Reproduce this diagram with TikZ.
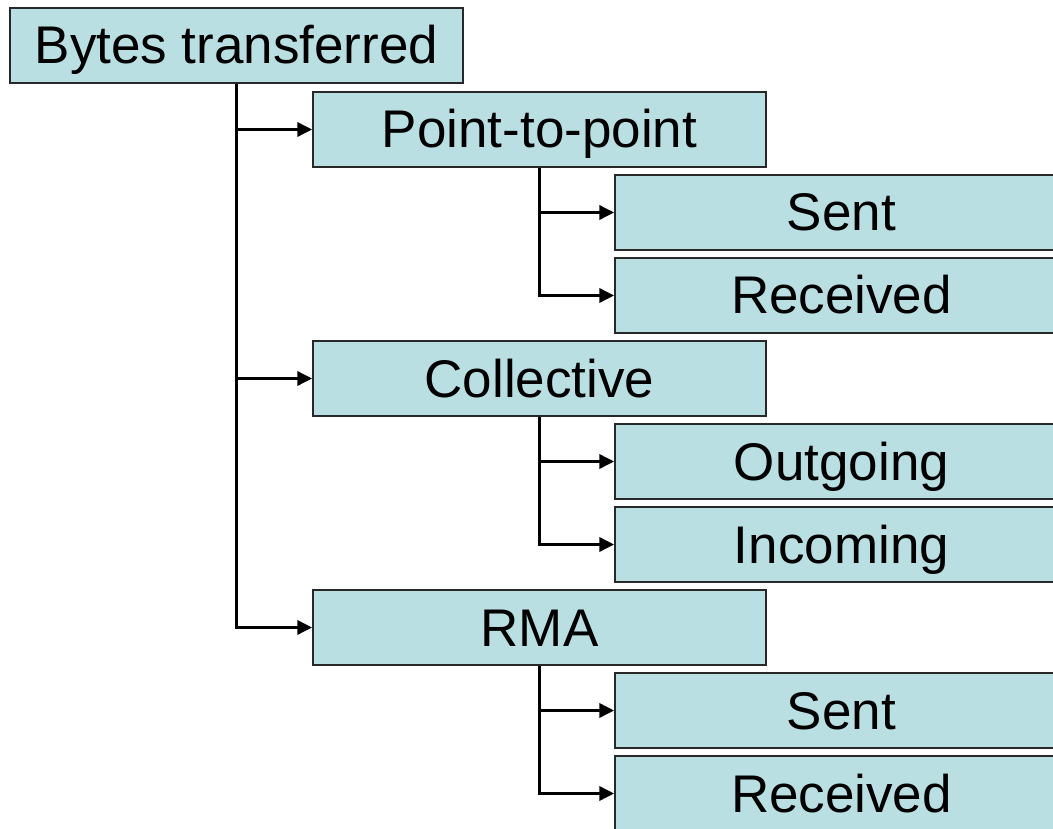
\documentclass[tikz,border=0pt]{standalone}
\usepackage{fontspec}
\setmainfont{Liberation Sans}
\usetikzlibrary{arrows.meta}
\definecolor{boxfill}{RGB}{185,223,226}
\definecolor{boxline}{RGB}{40,40,40}
\tikzset{
  box/.style={draw=boxline,line width=1.5pt,fill=boxfill,rectangle,
    minimum width=453pt,minimum height=75pt,inner sep=0pt,
    text height=38pt,text depth=1pt,
    font=\fontsize{53}{60}\selectfont},
  link/.style={line width=3.5pt,-{Triangle[length=15pt,width=14pt]}}
}
\begin{document}
\begin{tikzpicture}[x=1pt,y=-1pt,line join=miter]
		\useasboundingbox (0,0) rectangle (1053,829);
		\clip (0,0) rectangle (1053,829);
		% top level
		\node[box] (bytes) at (236.5,45.5) {Bytes transferred};
		% second level
		\node[box] (p2p) at (539.5,129.5) {Point-to-point};
		\node[box] (coll) at (539.5,378.5) {Collective};
		\node[box] (rma) at (539.5,627.5) {RMA};
		% third level
		\node[box] (p2psent) at (841.5,212.5) {Sent};
		\node[box] (p2precv) at (841.5,295.5) {Received};
		\node[box] (collout) at (841.5,461.5) {Outgoing};
		\node[box] (collin) at (841.5,544.5) {Incoming};
		\node[box] (rmasent) at (841.5,710.5) {Sent};
		\node[box] (rmarecv) at (841.5,793.5) {Received};
		% connectors
		\draw[link] (bytes.south) |- (p2p.west);
		\draw[link] (bytes.south) |- (coll.west);
		\draw[link] (bytes.south) |- (rma.west);
		\draw[link] (p2p.south) |- (p2psent.west);
		\draw[link] (p2p.south) |- (p2precv.west);
		\draw[link] (coll.south) |- (collout.west);
		\draw[link] (coll.south) |- (collin.west);
		\draw[link] (rma.south) |- (rmasent.west);
		\draw[link] (rma.south) |- (rmarecv.west);
\end{tikzpicture}
\end{document}
